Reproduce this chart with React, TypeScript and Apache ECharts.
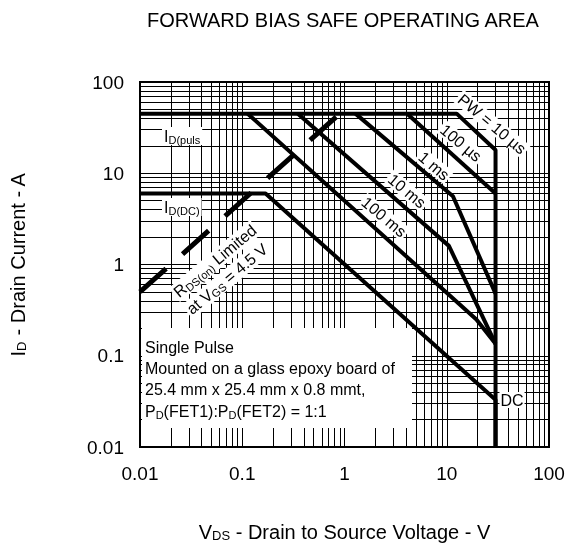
import React, { useEffect, useRef } from 'react';
import * as echarts from 'echarts';

const FONT = '"Liberation Sans", Arial, Helvetica, sans-serif';

// Axis tick labels (log axes)
const xTickLabels = ['0.01', '0.1', '1', '10', '100'];
const yTickLabels = ['0.01', '0.1', '1', '10', '100'];

// Grid decades and minor multipliers
const gridDecades = [0.01, 0.1, 1, 10];
const gridMultipliers = [1, 2, 3, 4, 5, 6, 7, 8, 9];

// Curves [V_DS (V), I_D (A)]
const pulseLimit10us = [[0.01, 45], [12.5, 45], [30, 18], [30, 0.01]];
const pw100us = [[4.1, 45], [30, 6]];
const pw1ms = [[1.28, 45], [11.5, 5.6], [30, 0.48]];
const pw10ms = [[0.35, 45], [10.5, 1.6], [30, 0.135]];
const pw100ms = [[0.113, 45], [19.5, 0.25], [30, 0.135]];
const dcLine = [[0.01, 6], [0.169, 6], [30, 0.033], [30, 0.01]];
const rdsOnLimit = [[0.01, 0.5], [0.9, 45]];

const gridValues: number[] = [];
gridDecades.forEach((d) => gridMultipliers.forEach((m) => gridValues.push(+(d * m).toPrecision(2))));
gridValues.push(100);

function curve(data: number[][], extra: any = {}) {
  return {
    type: 'line',
    data,
    symbol: 'none',
    silent: true,
    z: 5,
    lineStyle: { color: '#000', width: 4, ...extra },
  };
}

function rotText(text: string, x: number, y: number, deg: number, size = 16) {
  return {
    type: 'text',
    x,
    y,
    rotation: (deg * Math.PI) / 180,
    z: 101,
    style: {
      text,
      fontFamily: FONT,
      fontSize: size,
      fill: '#000',
      align: 'center',
      verticalAlign: 'middle',
      backgroundColor: '#fff',
      padding: [0, 2],
    },
  };
}

function richText(text: string, x: number, y: number, deg = 0, align = 'left', bg = true) {
  return {
    type: 'text',
    x,
    y,
    rotation: (deg * Math.PI) / 180,
    z: 101,
    style: {
      text,
      align,
      verticalAlign: 'middle',
      backgroundColor: bg ? '#fff' : 'transparent',
      padding: bg ? [0, 2] : 0,
      rich: {
        a: { fontFamily: FONT, fontSize: 16, fill: '#000', color: '#000', lineHeight: 18 },
        b: { fontFamily: FONT, fontSize: 11, fill: '#000', color: '#000', lineHeight: 18, verticalAlign: 'bottom', padding: [4, 0, 0, 0] },
      },
    },
  };
}

function plainText(text: string, x: number, y: number, size = 16) {
  return {
    type: 'text',
    x,
    y,
    z: 101,
    style: { text, fontFamily: FONT, fontSize: size, fill: '#000', align: 'left', verticalAlign: 'middle' },
  };
}

const axisNameRich = {
  a: { fontFamily: FONT, fontSize: 20, color: '#000' },
  b: { fontFamily: FONT, fontSize: 13, color: '#000', verticalAlign: 'bottom', padding: [7, 0, 0, 0] },
};

export default function App() {
  const ref = useRef<HTMLDivElement>(null);
  useEffect(() => {
    if (!ref.current) return;
    const chart = echarts.init(ref.current, null, { renderer: 'svg' });
    const tickFmt = (labels: string[]) => (v: number) => {
      const idx = Math.round(Math.log10(v)) + 2;
      return labels[idx] ?? '';
    };
    const option: any = {
      animation: false,
      grid: {
        left: 139,
        top: 82,
        width: 410,
        height: 365,
        show: true,
        borderColor: '#000',
        borderWidth: 2,
        backgroundColor: '#fff',
      },
      xAxis: {
        type: 'log',
        logBase: 10,
        min: 0.01,
        max: 100,
        splitLine: { show: false },
        axisTick: { show: false },
        axisLine: { show: false },
        axisLabel: { formatter: tickFmt(xTickLabels), fontFamily: FONT, fontSize: 19, color: '#000', margin: 17 },
        name: '{a|V}{b|DS}{a| - Drain to Source Voltage - V}',
        nameLocation: 'middle',
        nameGap: 75,
        nameTextStyle: { rich: axisNameRich },
      },
      yAxis: {
        type: 'log',
        logBase: 10,
        min: 0.01,
        max: 100,
        splitLine: { show: false },
        axisTick: { show: false },
        axisLine: { show: false },
        axisLabel: { formatter: tickFmt(yTickLabels), fontFamily: FONT, fontSize: 19, color: '#000', margin: 16 },
        name: '{a|I}{b|D}{a| - Drain Current - A}',
        nameLocation: 'middle',
        nameGap: 112,
        nameTextStyle: { rich: axisNameRich },
      },
      series: [
        {
          type: 'line',
          data: [],
          silent: true,
          z: 2,
          markLine: {
            silent: true,
            symbol: ['none', 'none'],
            label: { show: false },
            lineStyle: { color: '#000', width: 1, type: 'solid' },
            data: [
              ...gridValues.map((v) => ({ xAxis: v })),
              ...gridValues.map((v) => ({ yAxis: v })),
            ],
          },
        },
        curve(pulseLimit10us),
        curve(pw100us),
        curve(pw1ms),
        curve(pw10ms),
        curve(pw100ms),
        curve(dcLine),
        curve(rdsOnLimit, { width: 5, type: [35, 22] }),
      ],
      graphic: [
        {
          type: 'text',
          x: 343,
          y: 20,
          style: {
            text: 'FORWARD BIAS SAFE OPERATING AREA',
            fontFamily: FONT,
            fontSize: 20,
            fill: '#000',
            align: 'center',
            verticalAlign: 'middle',
          },
        },
        { type: 'rect', z: 100, shape: { x: 142, y: 328, width: 270, height: 100 }, style: { fill: '#fff' } },
        plainText('Single Pulse', 145, 347),
        plainText('Mounted on a glass epoxy board of', 145, 368),
        plainText('25.4 mm x 25.4 mm x 0.8 mmt,', 145, 389),
        richText('{a|P}{b|D}{a|(FET1):P}{b|D}{a|(FET2) = 1:1}', 145, 411, 0, 'left', false),
        rotText('PW = 10 µs', 492, 124, -40),
        rotText('100 µs', 461, 143, -40),
        rotText('1 ms', 434, 166, -40),
        rotText('10 ms', 407, 191, -40),
        rotText('100 ms', 384, 217, -40),
        {
          type: 'text',
          x: 512,
          y: 400,
          z: 101,
          style: {
            text: 'DC',
            fontFamily: FONT,
            fontSize: 16,
            fill: '#000',
            align: 'center',
            verticalAlign: 'middle',
            backgroundColor: '#fff',
            padding: [0, 1],
          },
        },
        richText('{a|I}{b|D(puls}', 162, 136),
        richText('{a|I}{b|D(DC)}', 162, 207),
        richText('{a|R}{b|DS(on)}{a| Limited}', 215, 261, 40, 'center'),
        richText('{a|at V}{b|GS}{a| = 4.5 V}', 227, 279, 40, 'center'),
      ],
    };
    chart.setOption(option);
    return () => chart.dispose();
  }, []);
  return <div ref={ref} style={{ position: 'fixed', left: 0, top: 0, width: 571, height: 550 }} />;
}
